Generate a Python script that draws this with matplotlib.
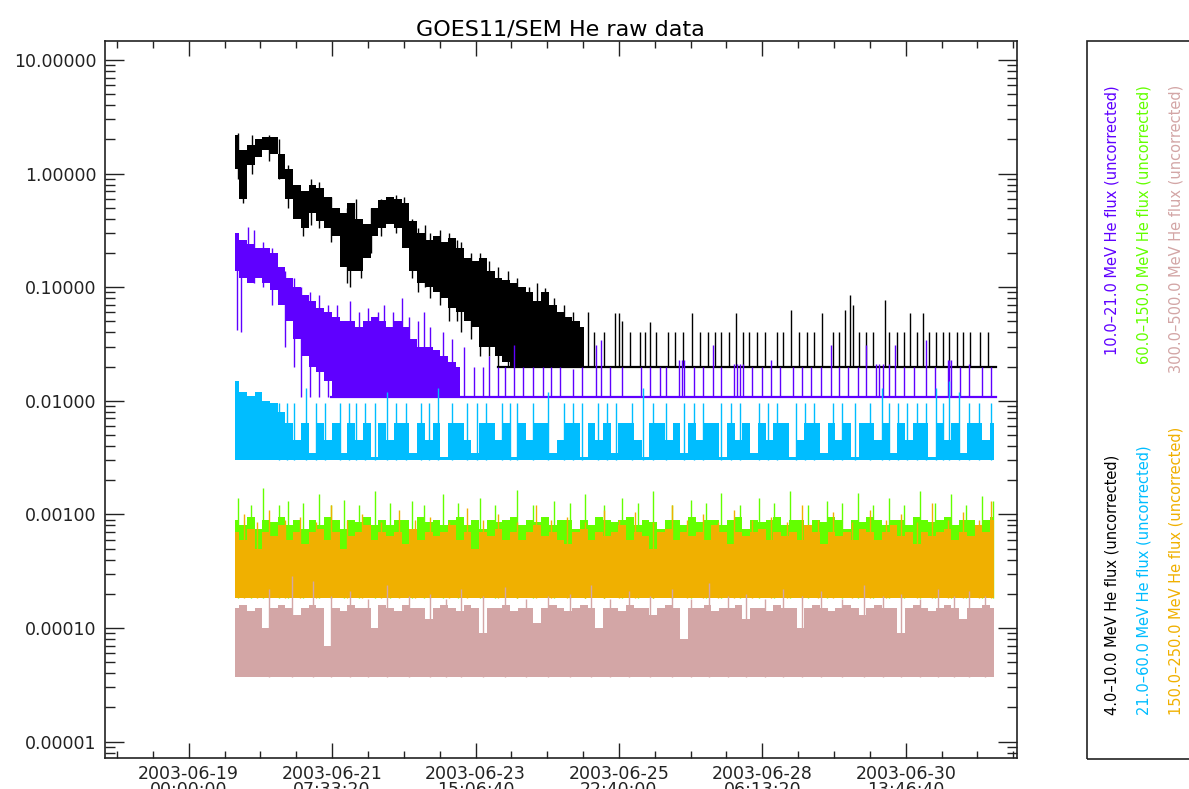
# GOES11/SEM He raw data - recriação do gráfico de fluxo de He (não corrigido)
import datetime as dt
import numpy as np
import matplotlib
matplotlib.use("Agg")
import matplotlib.pyplot as plt
import matplotlib.dates as mdates
from matplotlib.ticker import FixedLocator, FuncFormatter, LogLocator, NullFormatter
from matplotlib.patches import Rectangle

#------------------------------------------------------------------------------
# Tempo: dias desde 2003-06-19 00:00 UT; canais em banda com cadência de 3 h
base_time = dt.datetime(2003, 6, 19)
t_start = 0.75
cadence = 0.125
data_end = 13.03

# 4.0-10.0 MeV (preto) - fase de decaimento (máximo / mínimo por intervalo)
black_hi = [2.2, 1.6, 1.8, 2.0, 2.1, 2.1, 1.5, 1.1, 0.8, 0.7, 0.8, 0.75, 0.62, 0.5, 0.45,
            0.55, 0.40, 0.36, 0.50, 0.58, 0.62, 0.60, 0.55, 0.38, 0.30, 0.26, 0.28, 0.25,
            0.27, 0.22, 0.18, 0.17, 0.18, 0.14, 0.12, 0.115, 0.11, 0.10, 0.09, 0.075, 0.09,
            0.07, 0.06, 0.055, 0.05, 0.045]
black_lo = [1.1, 0.6, 1.2, 1.4, 1.6, 1.5, 0.9, 0.6, 0.4, 0.33, 0.45, 0.38, 0.33, 0.28, 0.15,
            0.14, 0.14, 0.18, 0.28, 0.33, 0.36, 0.33, 0.22, 0.14, 0.11, 0.10, 0.09, 0.08,
            0.065, 0.06, 0.05, 0.045, 0.03, 0.03, 0.025, 0.022, 0.02, 0.02, 0.02, 0.02, 0.02,
            0.02, 0.02, 0.02, 0.02, 0.02]
black_floor = 0.02
black_ndl_t = [0.8, 0.87, 1.02, 1.3, 1.45, 1.6, 1.85, 1.98, 2.1, 2.3, 2.55, 2.6, 2.7, 2.78,
               2.95, 3.1, 3.35, 3.48, 3.6, 3.7, 3.82, 3.9, 4.05, 4.2, 4.33, 4.4, 4.55, 4.7,
               4.85, 5.0, 5.15, 5.3, 5.5, 5.62, 5.75, 5.9, 6.05, 6.2]
black_ndl_lo = [0.9, 0.55, 1.0, 1.3, 0.9, 0.5, 0.28, 0.35, 0.33, 0.25, 0.11, 0.10, 0.15, 0.12,
                0.2, 0.28, 0.3, 0.25, 0.12, 0.09, 0.1, 0.08, 0.07, 0.05, 0.05, 0.04, 0.035,
                0.025, 0.025, 0.02, 0.02, 0.02, 0.02, 0.02, 0.02, 0.02, 0.02, 0.02]
black_ndl_hi = [2.3, 1.5, 2.2, 2.2, 2.0, 1.2, 0.7, 0.9, 0.85, 0.62, 0.5, 0.45, 0.6, 0.4,
                0.5, 0.6, 0.65, 0.62, 0.4, 0.33, 0.35, 0.3, 0.32, 0.3, 0.26, 0.25, 0.2, 0.2,
                0.17, 0.15, 0.14, 0.12, 0.10, 0.11, 0.098, 0.08, 0.07, 0.06]
black_spk_t = [6.45, 6.55, 6.7, 6.88, 6.95, 7.0, 7.12, 7.28, 7.36, 7.44, 7.55, 7.73, 7.85, 7.98,
               8.12, 8.25, 8.38, 8.49, 8.6, 8.72, 8.84, 8.95, 9.05, 9.17, 9.3, 9.49, 9.6, 9.73,
               9.85, 9.98, 10.1, 10.23, 10.4, 10.5, 10.59, 10.67, 10.72, 10.82, 10.94, 11.05,
               11.24, 11.3, 11.43, 11.55, 11.64, 11.75, 11.85, 11.95, 12.07, 12.18, 12.28,
               12.4, 12.5, 12.61, 12.77, 12.9]
black_spk_v = [0.06, 0.04, 0.04, 0.059, 0.059, 0.05, 0.04, 0.04, 0.04, 0.049, 0.04, 0.04, 0.04,
               0.04, 0.059, 0.04, 0.04, 0.04, 0.04, 0.04, 0.059, 0.04, 0.04, 0.04, 0.04, 0.04,
               0.04, 0.063, 0.04, 0.04, 0.04, 0.059, 0.04, 0.04, 0.063, 0.085, 0.07, 0.04, 0.04,
               0.04, 0.077, 0.04, 0.04, 0.04, 0.059, 0.04, 0.059, 0.04, 0.04, 0.04, 0.04, 0.04,
               0.04, 0.04, 0.04, 0.04]

# 10.0-21.0 MeV (roxo)
purple_hi = [0.30, 0.26, 0.24, 0.22, 0.22, 0.20, 0.15, 0.12, 0.10, 0.085, 0.075, 0.065, 0.06,
             0.055, 0.05, 0.05, 0.045, 0.05, 0.055, 0.05, 0.045, 0.05, 0.045, 0.035, 0.03,
             0.03, 0.028, 0.025, 0.022, 0.02]
purple_lo = [0.14, 0.12, 0.11, 0.12, 0.11, 0.095, 0.07, 0.05, 0.035, 0.025, 0.02, 0.018, 0.015,
             0.0107, 0.0107, 0.0107, 0.0107, 0.0107, 0.0107, 0.0107, 0.0107, 0.0107, 0.0107,
             0.0107, 0.0107, 0.0107, 0.0107, 0.0107, 0.0107, 0.0107]
purple_floor = 0.0107
purple_ndl_t = [0.78, 0.85, 0.95, 1.05, 1.2, 1.35, 1.55, 1.7, 1.82, 1.95, 2.1, 2.25, 2.4, 2.6,
                2.75, 2.9, 3.05, 3.15, 3.3, 3.45, 3.55, 3.7, 3.8, 3.9, 4.1, 4.25]
purple_ndl_lo = [0.042, 0.04, 0.12, 0.11, 0.10, 0.07, 0.03, 0.02, 0.0107, 0.0107, 0.0107,
                 0.0107, 0.0107, 0.0107, 0.0107, 0.0107, 0.0107, 0.0107, 0.0107, 0.0107,
                 0.0107, 0.0107, 0.0107, 0.0107, 0.0107, 0.0107]
purple_ndl_hi = [0.30, 0.2, 0.34, 0.32, 0.25, 0.22, 0.14, 0.12, 0.1, 0.09, 0.085, 0.07, 0.07,
                 0.075, 0.06, 0.065, 0.06, 0.07, 0.06, 0.08, 0.055, 0.05, 0.06, 0.045, 0.04,
                 0.035]
purple_spk_t = [4.45, 4.6, 4.75, 4.85, 5.0, 5.1, 5.25, 5.4, 5.55, 5.72, 5.85, 6.0, 6.2, 6.35,
                6.58, 6.66, 6.8, 7.0, 7.3, 7.45, 7.6, 7.7, 7.92, 7.96, 8.0, 8.15, 8.3, 8.47,
                8.6, 8.8, 8.85, 8.9, 8.95, 9.1, 9.25, 9.4, 9.55, 9.75, 9.9, 10.05, 10.2, 10.37,
                10.5, 10.65, 10.8, 10.93, 11.1, 11.15, 11.2, 11.3, 11.4, 11.55, 11.7, 11.9,
                12.05, 12.25, 12.28, 12.3, 12.45, 12.6, 12.8, 12.95]
purple_spk_v = [0.03, 0.02, 0.02, 0.025, 0.02, 0.02, 0.031, 0.02, 0.02, 0.02, 0.02, 0.02, 0.019,
                0.02, 0.031, 0.034, 0.02, 0.02, 0.02, 0.02, 0.02, 0.02, 0.023, 0.023, 0.023,
                0.02, 0.02, 0.031, 0.02, 0.021, 0.021, 0.021, 0.021, 0.02, 0.02, 0.023, 0.02,
                0.02, 0.02, 0.02, 0.02, 0.031, 0.02, 0.02, 0.02, 0.031, 0.021, 0.021, 0.021,
                0.021, 0.031, 0.02, 0.02, 0.034, 0.02, 0.023, 0.023, 0.023, 0.02, 0.021, 0.02,
                0.02]

# 21.0-60.0 MeV (azul claro), em unidades de 1e-3
cyan_hi = [15, 12, 11, 12, 10, 9.5, 8, 6.4, 4.5, 6.4, 3.5, 6.4, 4.5, 6.4, 3.5, 6.4, 4.5, 6.4,
           3.2, 6.4, 4.5, 6.4, 6.4, 3.5, 6.4, 4.5, 6.4, 3.2, 6.4, 6.4, 4.5, 3.5, 6.4, 6.4, 4.5,
           6.4, 3.2, 6.4, 4.5, 6.4, 6.4, 3.5, 4.5, 6.4, 6.4, 3.2, 6.4, 4.5, 6.4, 3.5, 6.4, 6.4,
           4.5, 3.2, 6.4, 6.4, 4.5, 6.4, 3.5, 6.4, 4.5, 6.4, 6.4, 3.2, 6.4, 4.5, 6.4, 3.5, 6.4,
           4.5, 6.4, 6.4, 3.2, 4.5, 6.4, 6.4, 3.5, 6.4, 4.5, 6.4, 3.2, 6.4, 6.4, 4.5, 6.4, 3.5,
           6.4, 4.5, 6.4, 6.4, 3.2, 6.4, 4.5, 6.4, 3.5, 6.4, 6.4, 4.5, 6.4]
cyan_floor = 3.0
cyan_spk_t = [1.45, 1.58, 1.7, 1.89, 2.05, 2.2, 2.45, 2.58, 2.7, 2.85, 3.0, 3.2, 3.35, 3.5,
              3.75, 3.88, 4.02, 4.25, 4.5, 4.65, 4.8, 5.05, 5.18, 5.3, 5.55, 5.8, 6.05, 6.2,
              6.35, 6.6, 6.75, 6.9, 7.15, 7.33, 7.5, 7.7, 8.0, 8.15, 8.3, 8.6, 8.75, 8.9, 9.2,
              9.35, 9.5, 9.8, 9.95, 10.1, 10.4, 10.55, 10.75, 11.0, 11.19, 11.3, 11.45, 11.6,
              11.75, 11.9, 12.06, 12.18, 12.28, 12.43, 12.6, 12.75, 12.95]
cyan_spk_v = [9.5, 9.5, 9.5, 13, 9.5, 9.5, 9.5, 9.5, 9.5, 9.5, 9.5, 12, 9.5, 9.5, 9.5, 9.5,
              13, 9.5, 9.5, 9.5, 9.5, 9.5, 9.5, 9.5, 9.5, 12, 9.5, 9.5, 9.5, 9.5, 9.5, 9.5,
              9.5, 13, 9.5, 9.5, 9.5, 9.5, 9.5, 9.5, 9.5, 9.5, 9.5, 9.5, 9.5, 9.5, 9.5, 9.5,
              9.5, 9.5, 9.5, 9.5, 13, 9.5, 9.5, 9.5, 9.5, 9.5, 13, 9.5, 15, 12, 9.5, 9.5, 9.5]

# 60.0-150.0 MeV (verde), em unidades de 1e-4
green_hi = [9, 8, 9.5, 7.5, 9, 8.5, 9.5, 8, 9, 7.5, 9, 8, 9.5, 9, 7.5, 9, 8.5, 9.5, 8, 9,
            8, 9, 9, 7.5, 9.5, 8.5, 9, 8, 9, 9.5, 8, 9, 7.5, 9, 8.5, 9, 9.5, 8, 9, 8.5,
            9.5, 8, 9, 9, 7.5, 9, 8, 9.5, 9, 8.5, 9, 9.5, 8, 9, 8.5, 7.5, 9, 9, 8, 9.5,
            8.5, 9, 9, 8, 9, 9.5, 7.5, 9, 8.5, 9, 9.5, 8, 9, 9, 8, 9, 8.5, 9.5, 9, 7.5,
            9, 8.5, 9.5, 9, 8, 9, 9, 8, 9.5, 9, 8.5, 9, 9.5, 8, 9, 9, 8, 9, 9.5]
green_floor = 1.84
green_spk_t = [0.8, 1.0, 1.2, 1.45, 1.6, 1.85, 2.1, 2.3, 2.5, 2.75, 3.0, 3.25, 3.6, 3.8, 4.1,
               4.35, 4.7, 4.95, 5.3, 5.55, 5.9, 6.15, 6.4, 6.7, 7.0, 7.25, 7.5, 7.8, 8.1, 8.35,
               8.6, 8.9, 9.2, 9.45, 9.7, 10.0, 10.3, 10.55, 10.8, 11.05, 11.3, 11.55, 11.8,
               12.05, 12.3, 12.55, 12.8, 12.98]
green_spk_v = [14, 12, 17, 12, 13, 12.5, 15, 12, 13.5, 12, 16, 12.5, 13, 12, 15, 12.5, 14, 12,
               16.5, 12, 13, 12.5, 15, 12, 14, 12.5, 16, 12, 13.5, 12.5, 15.5, 12, 14, 12.5,
               16, 12, 13, 12.5, 15.5, 12, 14, 12, 16, 12.5, 15, 12, 14.5, 13]

# 150.0-250.0 MeV (laranja), em unidades de 1e-4
orange_hi = [7, 6, 7.5, 5, 7, 6.5, 8, 6, 7, 5.5, 7, 7.5, 6, 7, 5, 6.5, 7, 8, 6, 7, 6.5, 7, 5.5,
             7.5, 6, 7, 6.5, 7, 8, 6, 7, 5, 7, 6.5, 7.5, 6, 7, 6, 7, 8, 6.5, 7, 6, 5.5, 7, 7.5,
             6, 7, 6.5, 7, 8, 6, 7, 6.5, 5, 7, 7.5, 6, 7, 6.5, 7, 6, 8, 7, 5.5, 7, 6.5, 7, 7.5,
             6, 7, 6.5, 7, 6, 8, 7, 5.5, 7, 6.5, 7, 6, 7.5, 7, 6, 7, 8, 6.5, 7, 5.5, 7, 6.5, 7,
             7.5, 6, 7, 6.5, 8, 7, 9]
orange_floor = 1.84
orange_spk_t = [0.9, 1.1, 1.3, 1.55, 1.8, 2.05, 2.3, 2.55, 2.8, 3.1, 3.4, 3.65, 3.9, 4.2, 4.5,
                4.75, 5.0, 5.3, 5.6, 5.85, 6.1, 6.4, 6.7, 6.95, 7.2, 7.5, 7.8, 8.05, 8.3, 8.55,
                8.8, 9.1, 9.4, 9.65, 9.9, 10.15, 10.4, 10.7, 11.0, 11.25, 11.5, 11.75, 12.0,
                12.25, 12.5, 12.75, 12.95]
orange_spk_v = [10, 8.5, 11, 9, 9.5, 8.5, 12, 9, 10, 8.5, 11, 9, 9.5, 8.5, 11.5, 9, 10, 8.5, 12,
                9, 9.5, 8.5, 11, 9, 10.5, 8.5, 12, 9, 10, 8.5, 11, 9, 9.5, 8.5, 12, 9, 10.5,
                8.5, 11, 9, 10, 8.5, 12.5, 9, 10.5, 9, 13]

# 300.0-500.0 MeV (rosado), em unidades de 1e-5
tan_hi = [15, 16, 14, 15, 10, 15, 16, 15, 13, 15, 16, 15, 7, 15, 14, 16, 15, 15, 10, 16,
          15, 14, 16, 15, 15, 12, 15, 16, 15, 14, 16, 15, 9, 15, 15, 16, 14, 15, 15, 11,
          15, 16, 15, 14, 15, 16, 15, 10, 15, 15, 14, 16, 15, 15, 13, 15, 16, 15, 8, 15,
          15, 16, 14, 15, 15, 16, 12, 15, 15, 14, 16, 15, 15, 10, 15, 16, 15, 14, 15, 16,
          15, 13, 15, 16, 15, 15, 9, 15, 16, 15, 14, 15, 16, 15, 12, 15, 15, 16, 15]
tan_floor = 3.7
tan_spk_t = [1.3, 1.66, 2.0, 2.3, 2.6, 2.9, 3.2, 3.55, 3.9, 4.15, 4.4, 4.75, 5.1, 5.45, 5.8,
             6.15, 6.5, 6.8, 7.1, 7.45, 7.8, 8.1, 8.4, 8.7, 9.0, 9.3, 9.6, 9.9, 10.2, 10.55,
             10.9, 11.2, 11.5, 11.8, 12.1, 12.35, 12.6, 12.85]
tan_spk_v = [22, 29, 26, 19, 21, 18, 24, 19, 20, 18, 22, 19, 23, 18, 19, 20, 24, 18, 21, 19,
             22, 18, 25, 19, 20, 18, 22, 19, 21, 18, 24, 19, 20, 18, 22, 19, 21, 19]

# Rótulos da legenda
labels_top = ["10.0\u201321.0 MeV He flux (uncorrected)",
              "60.0\u2013150.0 MeV He flux (uncorrected)",
              "300.0\u2013500.0 MeV He flux (uncorrected)"]
labels_bottom = ["4.0\u201310.0 MeV He flux (uncorrected)",
                 "21.0\u201360.0 MeV He flux (uncorrected)",
                 "150.0\u2013250.0 MeV He flux (uncorrected)"]
#------------------------------------------------------------------------------
c_black = "#000000"
c_purple = "#5F00FF"
c_cyan = "#00BDFF"
c_green = "#63FF00"
c_orange = "#F0B000"
c_tan = "#D3A6A6"

base = mdates.date2num(base_time)


def grid(n):
    return base + t_start + cadence * np.arange(n)


def days(t):
    return base + np.asarray(t)


fig = plt.figure(figsize=(11.89, 7.89), dpi=100)
ax = fig.add_axes([104.5 / 1189, 1 - 758 / 789, (1017 - 104.5) / 1189, (758 - 41) / 789])
ax.set_yscale("log")

# === Preto ===
tb = grid(len(black_hi))
ax.fill_between(tb, black_lo, black_hi, step="mid", color=c_black, lw=0, zorder=2)
ax.vlines(days(black_ndl_t), black_ndl_lo, black_ndl_hi, color=c_black, lw=1, zorder=2)
ax.plot(days([5.0, data_end]), [black_floor, black_floor], color=c_black, lw=1.6, zorder=2)
ax.vlines(days(black_spk_t), black_floor, black_spk_v, color=c_black, lw=1, zorder=2)

# === Roxo ===
tp = grid(len(purple_hi))
ax.fill_between(tp, purple_lo, purple_hi, step="mid", color=c_purple, lw=0, zorder=3)
ax.vlines(days(purple_ndl_t), purple_ndl_lo, purple_ndl_hi, color=c_purple, lw=1, zorder=3)
ax.plot(days([2.3, data_end]), [purple_floor, purple_floor], color=c_purple, lw=1.6, zorder=3)
ax.vlines(days(purple_spk_t), purple_floor, purple_spk_v, color=c_purple, lw=1, zorder=3)

# === Azul claro ===
tc = grid(len(cyan_hi))
ax.fill_between(tc, cyan_floor * 1e-3, np.array(cyan_hi) * 1e-3, step="mid",
                color=c_cyan, lw=0, zorder=4)
ax.vlines(days(cyan_spk_t), cyan_floor * 1e-3, np.array(cyan_spk_v) * 1e-3,
          color=c_cyan, lw=1, zorder=4)

# === Verde ===
tg = grid(len(green_hi))
ax.fill_between(tg, green_floor * 1e-4, np.array(green_hi) * 1e-4, step="mid",
                color=c_green, lw=0, zorder=5)
ax.vlines(days(green_spk_t), green_floor * 1e-4, np.array(green_spk_v) * 1e-4,
          color=c_green, lw=1, zorder=5)

# === Laranja ===
to = grid(len(orange_hi))
ax.fill_between(to, orange_floor * 1e-4, np.array(orange_hi) * 1e-4, step="mid",
                color=c_orange, lw=0, zorder=6)
ax.vlines(days(orange_spk_t), orange_floor * 1e-4, np.array(orange_spk_v) * 1e-4,
          color=c_orange, lw=1, zorder=6)

# === Rosado ===
tt = grid(len(tan_hi))
ax.fill_between(tt, tan_floor * 1e-5, np.array(tan_hi) * 1e-5, step="mid",
                color=c_tan, lw=0, zorder=7)
ax.vlines(days(tan_spk_t), tan_floor * 1e-5, np.array(tan_spk_v) * 1e-5,
          color=c_tan, lw=1, zorder=7)

# === Eixos ===
ax.set_xlim(base - 1.359, base + 13.37)
ax.set_ylim(7.18e-6, 14.7)

major_x = [mdates.date2num(base_time + dt.timedelta(seconds=200000 * k)) for k in range(6)]
minor_x = [mdates.date2num(base_time + dt.timedelta(seconds=50000 * k)) for k in range(-2, 24)]
ax.xaxis.set_major_locator(FixedLocator(major_x))
ax.xaxis.set_minor_locator(FixedLocator(minor_x))
ax.xaxis.set_major_formatter(mdates.DateFormatter("%Y-%m-%d\n%H:%M:%S"))

ax.yaxis.set_major_locator(FixedLocator([1e-5, 1e-4, 1e-3, 1e-2, 1e-1, 1, 10]))
ax.yaxis.set_major_formatter(FuncFormatter(lambda v, p: f"{v:.5f}"))
ax.yaxis.set_minor_locator(LogLocator(base=10, subs=np.arange(2, 10), numticks=20))
ax.yaxis.set_minor_formatter(NullFormatter())

ax.tick_params(which="both", direction="in", top=True, right=True, width=1.0,
               colors="#222222", labelsize=12.5)
ax.tick_params(axis="x", which="major", length=10.6, pad=5)
ax.tick_params(axis="x", which="minor", length=5.3)
ax.tick_params(axis="y", which="major", length=13.8, pad=6)
ax.tick_params(axis="y", which="minor", length=7.4)
for lab in ax.get_xticklabels():
    lab.set_linespacing(0.85)
for sp in ax.spines.values():
    sp.set_linewidth(1.2)
    sp.set_color("#222222")

ax.set_title("GOES11/SEM He raw data", fontsize=16, pad=4)

# === Caixa da legenda (texto vertical) ===
fig.patches.append(Rectangle((1087 / 1189, 1 - 759 / 789), 0.3, (759 - 41) / 789,
                             transform=fig.transFigure, fill=False, lw=1.2,
                             edgecolor="#222222"))
xs = [1112 / 1189, 1144 / 1189, 1176 / 1189]
for x, txt, c in zip(xs, labels_top, [c_purple, c_green, c_tan]):
    fig.text(x, 1 - 85 / 789, txt, rotation=90, color=c, fontsize=10.5,
             ha="center", va="top")
for x, txt, c in zip(xs, labels_bottom, [c_black, c_cyan, c_orange]):
    fig.text(x, 1 - 715 / 789, txt, rotation=90, color=c, fontsize=10.5,
             ha="center", va="bottom")

plt.savefig("out.png", dpi=100)
